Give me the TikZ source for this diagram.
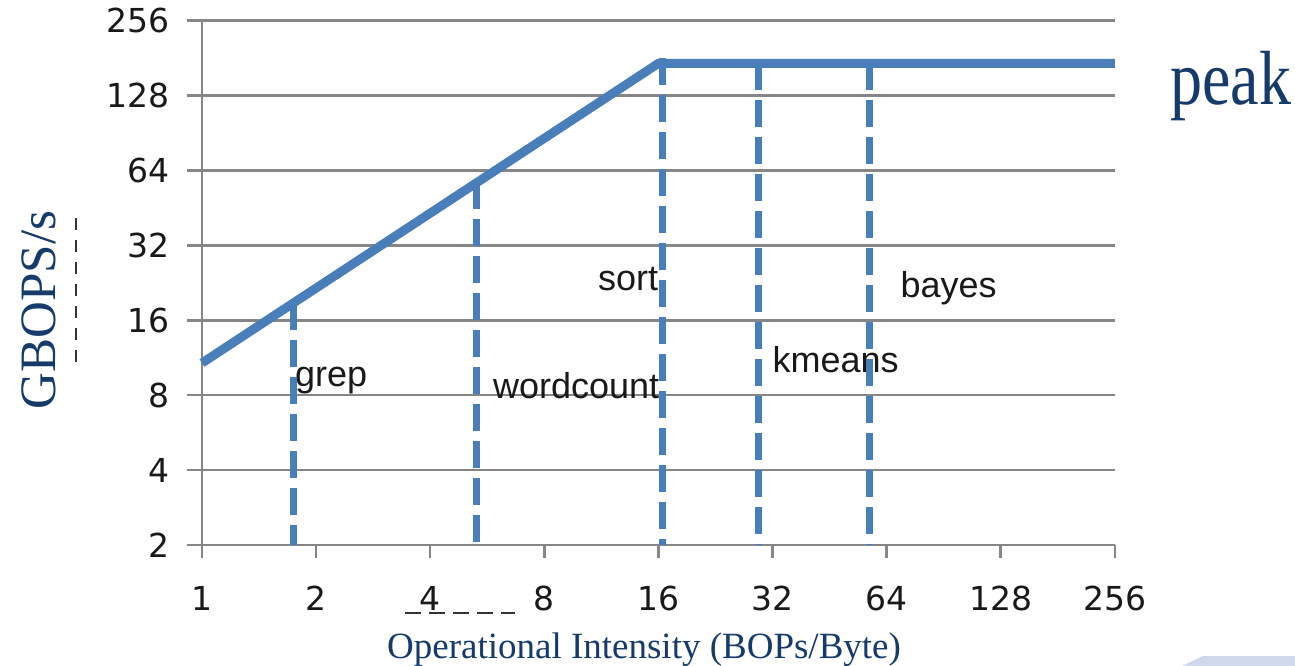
\documentclass[tikz,border=0pt]{standalone}
\usepackage{fontspec}
\setmainfont{Liberation Serif}
\setsansfont{Liberation Sans}
\newfontfamily\digitfont{DejaVu Sans}
\usetikzlibrary{calc}
\definecolor{roofblue}{RGB}{74,126,187}
\definecolor{gridgray}{RGB}{134,134,134}
\definecolor{titlenavy}{RGB}{22,58,105}
\definecolor{cornerlav}{RGB}{208,216,236}

\begin{document}
\begin{tikzpicture}[
  x=114.1pt, y=74.9pt,
  every node/.style={font=\sffamily, inner sep=0pt},
  gridline/.style={gridgray, line width=2.5pt},
  roof/.style={roofblue, line width=9pt},
  appline/.style={roofblue, line width=7pt, dash pattern=on 27pt off 10pt},
  ticklabel/.style={font=\digitfont\fontsize{33}{36}\selectfont, text=black!90},
  applabel/.style={font=\sffamily\fontsize{36}{40}\selectfont, text=black!90, anchor=base west},
  axistitle/.style={font=\rmfamily\fontsize{37}{40}\selectfont, text=titlenavy},
]

% ===== Canvas =====
% x = log2(BOPs/Byte), y = log2(GBOPS/s)
\fill[white] (-1.7704,-0.6155) rectangle (9.5793,8.2764);
\useasboundingbox (-1.7704,-0.6155) rectangle (9.5793,8.2764);

%% ---- GRID AND AXES ----
\foreach \e/\v in {1/2,2/4,3/8,4/16,5/32,6/64,7/128,8/256} {
  \draw[gridline] (-0.13,\e) -- (8,\e);
  \node[ticklabel, anchor=east] (ylab\v) at (-0.28,\e) {\v};
}
\draw[gridline] (0,8) -- (0,0.83);
\foreach \e/\v in {0/1,1/2,2/4,3/8,4/16,5/32,6/64,7/128,8/256} {
  \draw[gridline] (\e,1) -- (\e,0.83);
  \node[ticklabel, anchor=base] (xlab\v) at (\e,0.12) {\v};
}

%% ---- APPLICATION LABELS ----
\node[applabel] (grep)      at (0.815,3.11) {grep};
\node[applabel] (wordcount) at (2.55,2.96)  {wordcount};
\node[applabel] (sort)      at (3.47,4.40)  {sort};
\node[applabel] (kmeans)    at (5.00,3.30)  {kmeans};
\node[applabel] (bayes)     at (6.12,4.30)  {bayes};

%% ---- ROOFLINE ----
\coordinate (bwstart) at (0,3.43);
\coordinate (ridge)   at (4,7.43);
\coordinate (peakend) at (8,7.43);
\draw[roof] (bwstart) -- (ridge) -- (peakend);

% operating points, dropped to the axis
\foreach \app/\lx/\ly in {grep/0.80/4.23, wordcount/2.41/5.84,
                          sort/4.04/7.50, kmeans/4.88/7.43, bayes/5.85/7.43} {
  \coordinate (top-\app)  at (\lx,\ly);
  \coordinate (foot-\app) at (\lx,1);
  \draw[appline] (top-\app) -- (foot-\app);
}

%% ---- TITLES ----
\node[font=\rmfamily\fontsize{64}{70}\selectfont, text=titlenavy, anchor=base west]
  (peaklab) at (8.484,6.875) {\scalebox{1}[1.2]{peak}};
\node[font=\rmfamily\fontsize{51}{56}\selectfont, text=titlenavy, rotate=90, anchor=base]
  (ytitle) at (-1.288,4.137) {GBOPS/s};
\node[axistitle, anchor=base] (xtitle) at (3.874,-0.509)
  {Operational Intensity (BOPs/Byte)};

% leftover marks
\draw[black!80, line width=2pt, dash pattern=on 12pt off 10pt]
  (-1.104,5.366) -- (-1.104,3.31);
\draw[black!80, line width=1.5pt, dash pattern=on 16pt off 8pt]
  (1.78,0.09) -- (2.74,0.09);

% corner strip
\fill[cornerlav] (8.589,-0.6155) -- (8.773,-0.482) -- (9.5793,-0.482) -- (9.5793,-0.6155) -- cycle;

\end{tikzpicture}
\end{document}
